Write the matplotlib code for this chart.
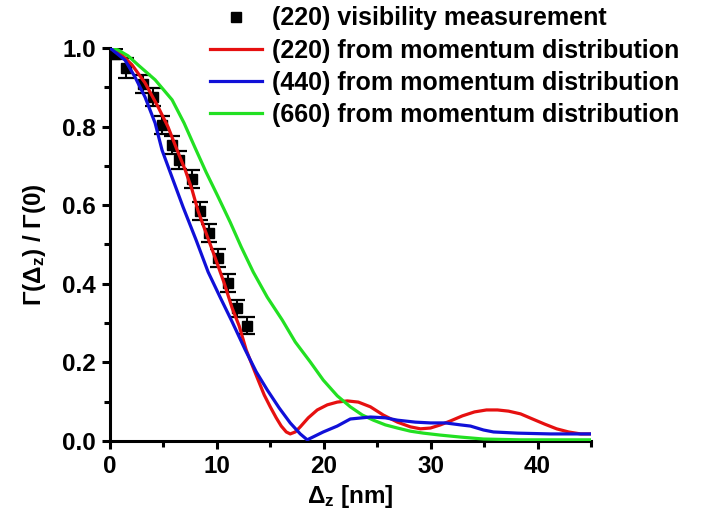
import matplotlib
matplotlib.use("Agg")
import matplotlib.pyplot as plt
from matplotlib.lines import Line2D
from matplotlib.ticker import MultipleLocator, FormatStrFormatter

plt.rcParams["font.family"] = ["Liberation Sans", "DejaVu Sans"]
plt.rcParams["font.weight"] = "bold"
plt.rcParams["mathtext.fontset"] = "custom"
plt.rcParams["mathtext.rm"] = "Liberation Sans:bold"
plt.rcParams["mathtext.it"] = "Liberation Sans:bold"
plt.rcParams["mathtext.bf"] = "Liberation Sans:bold"

# (220) visibility measurement
meas_x = [0.5, 1.5, 3.1, 4.0, 4.9, 5.8, 6.5, 7.7, 8.4, 9.3, 10.1, 11.0, 11.9, 12.8]
meas_y = [0.985, 0.949, 0.908, 0.875, 0.804, 0.753, 0.715, 0.667, 0.585, 0.529, 0.466, 0.402, 0.338, 0.293]
meas_err = [0.012, 0.025, 0.022, 0.022, 0.022, 0.022, 0.022, 0.022, 0.022, 0.022, 0.022, 0.022, 0.022, 0.022]

# (220) from momentum distribution
red_x = [0.00, 1.12, 2.06, 3.28, 4.50, 5.43, 6.28, 7.03, 7.68, 8.24, 8.99, 9.84, 10.68, 11.43,
         12.08, 12.74, 13.30, 13.86, 14.43, 14.99, 15.55, 16.02, 16.49, 16.86, 17.33, 17.80,
         18.55, 19.39, 20.33, 21.26, 22.20, 23.23, 24.36, 25.57, 26.89, 28.10, 29.04, 29.98,
         30.91, 31.85, 32.97, 34.10, 35.22, 36.25, 37.28, 38.41, 39.53, 40.66, 41.78, 42.90,
         44.03, 45.00]
red_y = [1.000, 0.982, 0.957, 0.911, 0.850, 0.799, 0.740, 0.690, 0.639, 0.585, 0.529, 0.466,
         0.402, 0.338, 0.293, 0.232, 0.193, 0.155, 0.117, 0.087, 0.059, 0.038, 0.023, 0.018,
         0.023, 0.036, 0.059, 0.079, 0.092, 0.099, 0.102, 0.099, 0.087, 0.066, 0.048, 0.036,
         0.031, 0.033, 0.041, 0.051, 0.064, 0.074, 0.079, 0.079, 0.076, 0.069, 0.056, 0.043,
         0.031, 0.023, 0.018, 0.018]

# (440) from momentum distribution
blue_x = [0.00, 1.41, 2.34, 3.28, 4.22, 4.87, 5.90, 6.84, 8.06, 9.18, 10.30, 11.43, 12.65,
          13.68, 14.71, 15.83, 16.86, 17.80, 18.45, 19.20, 19.95, 21.26, 22.48, 24.36, 25.76,
          26.89, 28.57, 29.98, 31.38, 32.79, 33.72, 34.94, 35.88, 38.13, 41.22, 45.00]
blue_y = [1.000, 0.969, 0.926, 0.875, 0.809, 0.740, 0.664, 0.595, 0.511, 0.430, 0.366, 0.303,
          0.232, 0.176, 0.130, 0.084, 0.046, 0.018, 0.003, 0.013, 0.023, 0.038, 0.056, 0.061,
          0.059, 0.053, 0.048, 0.046, 0.046, 0.041, 0.038, 0.028, 0.023, 0.020, 0.018, 0.018]

# (660) from momentum distribution
green_x = [0.00, 0.75, 1.69, 2.62, 4.22, 5.81, 6.93, 7.96, 8.99, 10.12, 11.24, 12.27, 13.40,
           14.71, 16.11, 17.33, 18.74, 19.95, 21.26, 22.48, 23.61, 24.64, 25.76, 26.89, 28.10,
           29.32, 30.91, 32.79, 34.94, 38.41, 42.15, 45.00]
green_y = [1.000, 0.995, 0.980, 0.957, 0.919, 0.868, 0.809, 0.746, 0.684, 0.621, 0.557, 0.494,
           0.430, 0.366, 0.308, 0.252, 0.201, 0.155, 0.115, 0.087, 0.066, 0.053, 0.041, 0.033,
           0.025, 0.020, 0.015, 0.010, 0.005, 0.003, 0.003, 0.003]

labels = ["(220) visibility measurement", "(220) from momentum distribution",
          "(440) from momentum distribution", "(660) from momentum distribution"]

fig = plt.figure(figsize=(7.02, 5.25), dpi=100)
ax = fig.add_axes([0.1567, 0.16, 0.6852, 0.7486])

ax.errorbar(meas_x, meas_y, yerr=meas_err, fmt="s", color="black", ms=7,
            ecolor="black", elinewidth=1.5, capsize=6, capthick=1.6, zorder=2)
l1, = ax.plot(red_x, red_y, color="#e61010", lw=2.3, zorder=3)
l2, = ax.plot(blue_x, blue_y, color="#1010d8", lw=2.3, zorder=4)
l3, = ax.plot(green_x, green_y, color="#22e022", lw=2.3, zorder=3)
sq = Line2D([], [], ls="none", marker="s", color="black", ms=7)

ax.set_xlim(0, 45)
ax.set_ylim(0, 1.0)
ax.xaxis.set_major_locator(MultipleLocator(10))
ax.xaxis.set_minor_locator(MultipleLocator(5))
ax.yaxis.set_major_locator(MultipleLocator(0.2))
ax.yaxis.set_minor_locator(MultipleLocator(0.1))
ax.yaxis.set_major_formatter(FormatStrFormatter("%.1f"))

for s in ["top", "right"]:
    ax.spines[s].set_visible(False)
for s in ["left", "bottom"]:
    ax.spines[s].set_linewidth(2.2)
ax.tick_params(which="major", direction="out", length=6, width=2.2, labelsize=17.5, pad=4)
ax.tick_params(which="minor", direction="out", length=4, width=2.2)
for lab in ax.get_xticklabels() + ax.get_yticklabels():
    lab.set_fontweight("bold")

ax.set_xlabel(r"$\Delta_z$ [nm]", fontsize=17.5, fontweight="bold", labelpad=4)
ax.set_ylabel(r"Γ($\Delta_z$) / Γ(0)", fontsize=17.5, fontweight="bold", labelpad=10)

fig.legend([sq, l1, l2, l3], labels,
           loc="upper left", bbox_to_anchor=(0.299, 0.988), frameon=False,
           prop={"size": 18, "weight": "bold"}, handlelength=2.1, handletextpad=0.4,
           labelspacing=0.33, borderpad=0, borderaxespad=0)

fig.savefig("out.png", dpi=100, facecolor="white")
